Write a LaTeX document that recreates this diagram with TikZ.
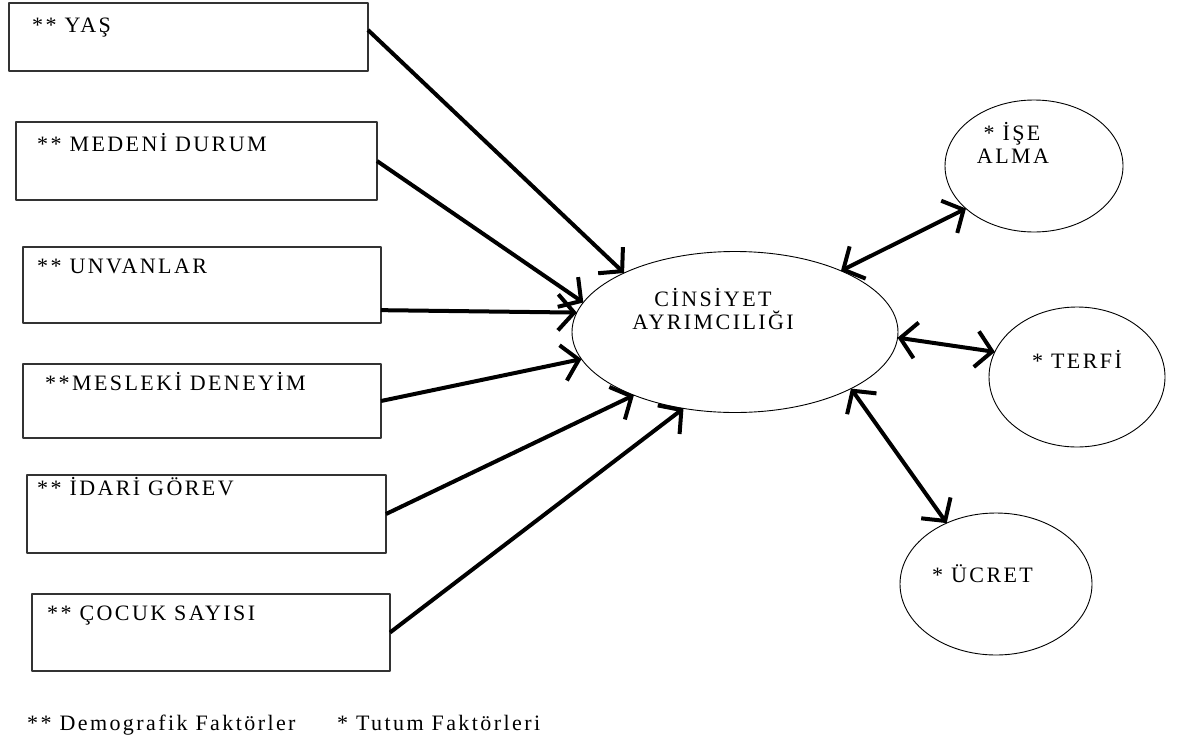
\documentclass[tikz,border=0pt]{standalone}
\usepackage{fontspec}
\setmainfont{Liberation Serif}[LetterSpace=11]
\usetikzlibrary{shapes.geometric,arrows.meta}
\begin{document}
\begin{tikzpicture}[x=1pt,y=-1pt,line join=round,font=\fontsize{22}{26}\selectfont,
	kutu/.style={draw=black!80,line width=1.8pt,rectangle,inner sep=0pt,outer sep=0pt},
	yazi/.style={anchor=base west,inner sep=0pt},
	orta/.style={anchor=base,inner sep=0pt},
	elips/.style={draw,line width=0.9pt,ellipse,inner sep=0pt,outer sep=0pt},
	ucu/.tip={Straight Barb[length=16pt,width=36pt]},
	ok/.style={line width=4pt,-ucu},
	cift/.style={line width=4pt,ucu-ucu}]
	\useasboundingbox (0,0) rectangle (1183,742);
	% demografik faktörler
	\node[kutu,minimum width=359pt,minimum height=68pt] (yas) at (188.5,37) {};
	\node[kutu,minimum width=361pt,minimum height=78pt] (medeni) at (196.5,161) {};
	\node[kutu,minimum width=358pt,minimum height=76pt] (unvan) at (202,285) {};
	\node[kutu,minimum width=358pt,minimum height=74pt] (meslek) at (202,401) {};
	\node[kutu,minimum width=359pt,minimum height=78pt] (idari) at (206.5,514) {};
	\node[kutu,minimum width=358pt,minimum height=77pt] (cocuk) at (211,632.5) {};
	\node[yazi] (tyas) at (32,32) {** YAŞ};
	\node[yazi] (tmedeni) at (37,151) {** MEDENİ DURUM};
	\node[yazi] (tunvan) at (37,273) {** UNVANLAR};
	\node[yazi] (tmeslek) at (45,390) {**MESLEKİ DENEYİM};
	\node[yazi] (tidari) at (37,495) {** İDARİ GÖREV};
	\node[yazi] (tcocuk) at (47,620) {** ÇOCUK SAYISI};
	% orta ve tutum faktörleri
	\node[elips,minimum width=326pt,minimum height=161pt] (cins) at (735,332) {};
	\node[orta] (tcins1) at (713,306) {CİNSİYET};
	\node[orta] (tcins2) at (713,329) {AYRIMCILIĞI};
	\node[elips,minimum width=178pt,minimum height=132pt] (ise) at (1034,166) {};
	\node[orta] (tise1) at (1012,140) {* İŞE};
	\node[orta] (tise2) at (1013,163) {ALMA};
	\node[elips,minimum width=176pt,minimum height=140pt] (terfi) at (1077,377) {};
	\node[yazi] (tterfi) at (1032,368) {* TERFİ};
	\node[elips,minimum width=192pt,minimum height=142pt] (ucret) at (996,584) {};
	\node[yazi] (tucret) at (932,582) {* ÜCRET};
	% oklar
	\draw[ok] (yas.east) ++(0,-7) -- (cins.152);
	\draw[ok] (medeni.east) -- (cins.169);
	\draw[ok] (unvan.-8) -- (cins.173);
	\draw[ok] (meslek.east) -- (cins.190);
	\draw[ok] (idari.east) -- (cins.212);
	\draw[ok] (cocuk.east) -- (cins.236);
	\draw[cift] (cins.30) -- (ise.212);
	\draw[cift] (cins.-2) -- (terfi.163);
	\draw[cift] (cins.-26) -- (ucret.129);
	% açıklama
	\node[yazi] (dem) at (27,730) {** Demografik Faktörler};
	\node[yazi] (tutum) at (337,730) {* Tutum Faktörleri};
\end{tikzpicture}
\end{document}
